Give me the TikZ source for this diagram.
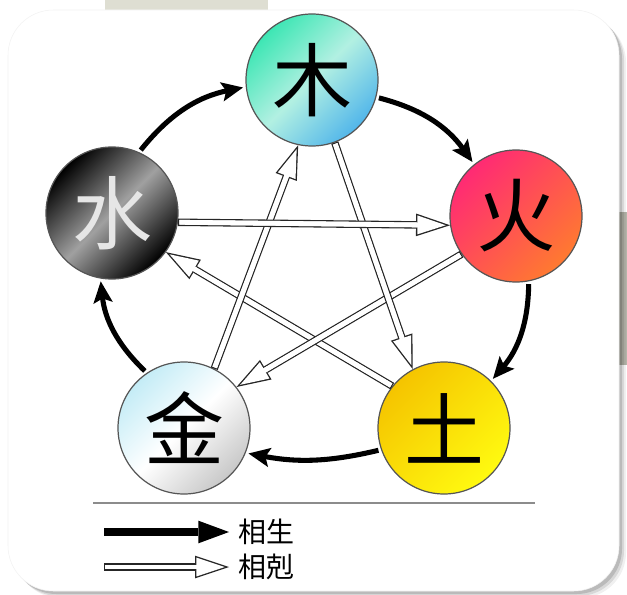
\documentclass[tikz,border=0pt]{standalone}
\usepackage{fontspec}
\newfontfamily\cjk{Noto Sans CJK TC}
\usepackage{tikz}
\usetikzlibrary{arrows.meta}
\definecolor{woodA}{HTML}{3DE6B4}
\definecolor{woodB}{HTML}{B2F0E2}
\definecolor{woodC}{HTML}{52B6EA}
\definecolor{fireA}{HTML}{FF2A74}
\definecolor{fireB}{HTML}{FF7A30}
\definecolor{earthA}{HTML}{F5C400}
\definecolor{earthB}{HTML}{FFFA10}
\definecolor{metalA}{HTML}{C4ECF6}
\definecolor{metalB}{HTML}{C8C8C8}
\definecolor{waterB}{HTML}{A0A0A0}
\definecolor{waterT}{HTML}{E6E6E6}
\definecolor{outl}{HTML}{555555}
\definecolor{patchA}{HTML}{DEDED2}
\definecolor{patchB}{HTML}{B6B6AA}

\begin{document}
\begin{tikzpicture}[
			x=0.75pt, y=0.75pt,
			elem/.style={circle,draw=outl,line width=0.9pt,minimum size=99pt,inner sep=0pt,
				font=\cjk\fontsize{60}{60}\selectfont},
			gen/.style={line width=3.8pt,-{Stealth[length=16pt,width=14pt,inset=3pt]},
				shorten <=2pt,shorten >=2pt},
			ke/.style={draw=black!85,line width=5.6pt,-{Triangle[length=25.5pt,width=17pt,line width=0pt]},
				postaction={draw=white,line width=3.6pt,shorten <=1pt,shorten >=3.2pt,
					-{Triangle[length=21.3pt,width=14.2pt,line width=0pt]}},
				postaction={draw=white,line width=3.6pt,shorten <=1pt,shorten >=24.2pt,-}},
			genkey/.style={line width=6pt,-{Triangle[length=23pt,width=17pt,line width=0pt]}},
			legtext/.style={anchor=west,inner sep=0pt,font=\cjk\fontsize{21}{21}\selectfont},
			]
			\useasboundingbox (0,0) rectangle (627,594);
			\fill[patchA] (105,580) rectangle (268,594);
			\fill[patchB] (619,229) rectangle (627,382);
			\foreach \d/\o in {7/0.06,5/0.10,3/0.14} {
				\fill[black,opacity=\o,rounded corners=34pt] (8+\d,3-\d) rectangle (619+\d,584-\d);
			}
			\fill[white,draw=black!5,rounded corners=34pt] (8,3) rectangle (619,584);

			\node[elem,top color=woodA,bottom color=woodC,middle color=woodB,shading angle=45] (wood) at (312,514) {木};
			\node[elem,top color=fireA,bottom color=fireB,shading angle=45] (fire) at (516,378) {火};
			\node[elem,top color=earthA,bottom color=earthB,shading angle=45] (earth) at (444,166) {土};
			\node[elem,top color=metalA,bottom color=metalB,middle color=white,shading angle=45] (metal) at (184,166) {金};
			\node[elem,top color=black,bottom color=black,middle color=waterB,shading angle=45,text=waterT] (water) at (112,381) {水};

			\draw[gen] (water.66) to[bend left=20] (wood.186);
			\draw[gen] (wood.-15) to[bend left=20] (fire.129);
			\draw[gen] (fire.-79) to[bend left=20] (earth.45);
			\draw[gen] (earth.199) to[bend left=12] (metal.-22);
			\draw[gen] (metal.124) to[bend left=20] (water.260);

			\draw[ke] (earth.141) -- (water.-36);
			\draw[ke] (fire.215) -- (metal.38);
			\draw[ke] (metal.63) -- (wood.258);
			\draw[ke] (wood.-70) -- (earth.118);
			\draw[ke] (water.-8) -- (fire.188);

			\coordinate (ruleL) at (93,91);
			\coordinate (ruleR) at (535,91);
			\draw[black!45,line width=1.5pt] (ruleL) -- (ruleR);
			\coordinate (genL) at (104,62);
			\coordinate (genR) at (229,62);
			\coordinate (keL) at (104,27);
			\coordinate (keR) at (229,27);
			\draw[genkey] (genL) -- (genR);
			\draw[ke] (keL) -- (keR);
			\node[legtext] (genlab) at (238,62) {相生};
			\node[legtext] (kelab) at (238,27) {相剋};
		\end{tikzpicture}
\end{document}
